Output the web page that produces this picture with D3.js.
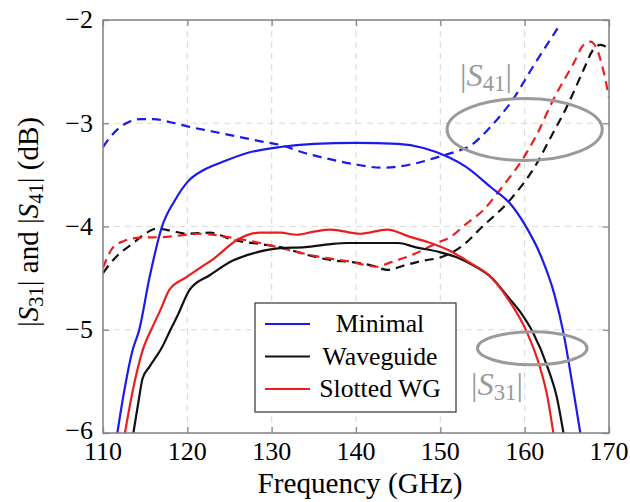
<!DOCTYPE html>
<html>
<head>
<meta charset="utf-8">
<script src="https://cdn.jsdelivr.net/npm/d3@7"></script>
<style>
  html, body { margin: 0; padding: 0; background: #fff; }
  svg { display: block; }
</style>
</head>
<body>
<svg id="chart" width="630" height="502"></svg>
<script>
// ---------- data ----------
const xTicks = [110, 120, 130, 140, 150, 160, 170];
const yTicks = [-6, -5, -4, -3, -2];
const seriesNames = ["Minimal", "Waveguide", "Slotted WG"];

// |S31| (solid)
const minimalS31 = [[111.7,-6],[112.5,-5.6],[113.5,-5.2],[114.3,-5.0],[115.5,-4.5],[117,-4.0],[118.5,-3.75],[120,-3.57],[122,-3.45],[124,-3.38],[127,-3.29],[131,-3.23],[135,-3.2],[140,-3.19],[145,-3.2],[148,-3.24],[151,-3.33],[153,-3.42],[156,-3.62],[158.3,-3.78],[160,-3.98],[162,-4.3],[163.5,-4.65],[164.6,-5.03],[165.6,-5.5],[166.6,-6]];
const waveguideS31 = [[113.6,-6],[114.2,-5.7],[114.7,-5.47],[115.5,-5.36],[117,-5.17],[118,-5.0],[118.8,-4.87],[120.3,-4.61],[122.7,-4.47],[125.4,-4.33],[127.8,-4.26],[131,-4.21],[134,-4.2],[137,-4.17],[139,-4.16],[142,-4.16],[145,-4.16],[147,-4.2],[150,-4.25],[152,-4.3],[154,-4.38],[156,-4.49],[158,-4.68],[159.5,-4.83],[161,-5.03],[162.7,-5.36],[163.8,-5.65],[164.6,-6]];
const slottedS31 = [[112.6,-6],[113.5,-5.6],[114.7,-5.2],[116,-4.95],[116.8,-4.81],[117.9,-4.61],[119.9,-4.49],[121.5,-4.4],[123,-4.32],[125.9,-4.13],[128.6,-4.06],[131,-4.06],[133,-4.08],[135,-4.05],[137,-4.03],[140.5,-4.07],[143.7,-4.03],[146.4,-4.1],[148.5,-4.15],[151,-4.23],[153.5,-4.35],[156,-4.49],[158,-4.7],[160.3,-5.03],[161.8,-5.36],[162.7,-5.65],[163.4,-6]];

// |S41| (dashed)
const minimalS41 = [[110,-3.23],[111,-3.12],[112,-3.04],[113,-2.99],[114.5,-2.96],[116,-2.96],[118,-2.99],[120,-3.03],[123,-3.08],[126,-3.13],[129,-3.18],[131,-3.21],[134,-3.29],[137,-3.35],[140,-3.4],[143,-3.43],[145,-3.42],[147.5,-3.38],[150,-3.32],[152,-3.27],[153.5,-3.22],[156,-3.03],[158.6,-2.77],[161,-2.45],[164,-2.07]];
const waveguideS41 = [[110,-4.45],[111.6,-4.29],[113.6,-4.16],[115,-4.07],[116.4,-4.02],[118,-4.04],[120,-4.07],[122.7,-4.06],[125.4,-4.13],[128.6,-4.17],[131,-4.2],[134,-4.27],[136.6,-4.32],[140,-4.35],[142,-4.38],[143.7,-4.42],[145.6,-4.38],[148,-4.33],[150,-4.3],[152.4,-4.2],[155,-4.0],[158.3,-3.74],[161.5,-3.38],[163,-3.15],[165,-2.84],[167,-2.48],[168.1,-2.29],[169,-2.24],[170,-2.28]];
const slottedS41 = [[110,-4.4],[111.2,-4.2],[112.5,-4.14],[114,-4.11],[117.6,-4.1],[121.5,-4.07],[125.4,-4.11],[128.6,-4.16],[132.2,-4.23],[135.4,-4.29],[139.3,-4.34],[142.5,-4.39],[144,-4.35],[146.8,-4.27],[149.6,-4.16],[151.2,-4.1],[153,-3.98],[155.1,-3.84],[157.5,-3.6],[159.9,-3.33],[161.5,-3.1],[163.4,-2.77],[165.8,-2.42],[167,-2.24],[167.8,-2.21],[168.5,-2.27],[169.3,-2.48],[170,-2.75]];

// annotation ellipses in data units: [centerGHz, centerdB, radiusGHz, radiusdB]
const ellipseS41 = [160, -3.06, 9.2, 0.30];
const ellipseS31 = [160.9, -5.18, 6.5, 0.16];

// ---------- layout ----------
const FONT = '"Liberation Serif"';
const svg = d3.select("#chart");
const L = 103, R = 609, T = 20, B = 433;
const x = d3.scaleLinear().domain([110, 170]).range([L, R]);
const y = d3.scaleLinear().domain([-6, -2]).range([B, T]);

const colors = { "Minimal": "#1a1aee", "Waveguide": "#111", "Slotted WG": "#ee1c1c" };

function txt(parent) {
  return parent.append("text").style("font-family", FONT).style("fill", "#000");
}
// scale a text's font-size so its rendered width matches a target width
function fitWidth(sel, target) {
  const w = sel.node().getComputedTextLength();
  const fs = parseFloat(sel.attr("font-size"));
  const nf = fs * target / w;
  sel.attr("font-size", nf);
  return nf;
}

svg.append("defs").append("clipPath").attr("id", "clip")
  .append("rect").attr("x", L).attr("y", T).attr("width", R - L).attr("height", B - T);

// grid
const grid = svg.append("g");
grid.selectAll(".gx").data(xTicks.slice(1, -1)).enter().append("line")
  .attr("x1", d => x(d)).attr("x2", d => x(d)).attr("y1", T).attr("y2", B)
  .attr("stroke", "#dcdcdc").attr("stroke-width", 1.2).attr("stroke-dasharray", "6,5");
grid.selectAll(".gy").data(yTicks.slice(1, -1)).enter().append("line")
  .attr("y1", d => y(d)).attr("y2", d => y(d)).attr("x1", L).attr("x2", R)
  .attr("stroke", "#dcdcdc").attr("stroke-width", 1.2).attr("stroke-dasharray", "6,5");

// axes (ticks inward, on all sides)
const tickLen = 6;
const axB = svg.append("g").attr("transform", `translate(0,${B})`)
  .call(d3.axisBottom(x).tickValues(xTicks).tickSize(-tickLen).tickFormat(""));
const axT = svg.append("g").attr("transform", `translate(0,${T})`)
  .call(d3.axisTop(x).tickValues(xTicks).tickSize(-tickLen).tickFormat(""));
const axL = svg.append("g").attr("transform", `translate(${L},0)`)
  .call(d3.axisLeft(y).tickValues(yTicks).tickSize(-tickLen).tickFormat(""));
const axR = svg.append("g").attr("transform", `translate(${R},0)`)
  .call(d3.axisRight(y).tickValues(yTicks).tickSize(-tickLen).tickFormat(""));
[axB, axT, axL, axR].forEach(a => {
  a.select(".domain").remove();
  a.selectAll("text").remove();
  a.selectAll("line").attr("stroke", "#8a8a8a").attr("stroke-width", 1.3);
});

// tick labels
const fmt = d => (d < 0 ? "\u2212" + Math.abs(d) : String(d));
const probe = txt(svg).attr("font-size", 24).text("130");
const tickFs = fitWidth(probe, 39);
probe.remove();
const xtl = svg.append("g");
xTicks.forEach(d => {
  txt(xtl).attr("x", x(d)).attr("y", 460).attr("text-anchor", "middle")
    .attr("font-size", tickFs).text(fmt(d));
});
const ytl = svg.append("g");
yTicks.forEach(d => {
  txt(ytl).attr("x", 93).attr("y", y(d) + tickFs * 0.32 - (d === -6 ? 2 : 0)).attr("text-anchor", "end")
    .attr("font-size", tickFs).text(fmt(d));
});

// series
const line = d3.line().x(d => x(d[0])).y(d => y(d[1])).curve(d3.curveMonotoneX);
const plot = svg.append("g").attr("clip-path", "url(#clip)");
const series = [
  { name: "Minimal", d: minimalS41, dash: true },
  { name: "Waveguide", d: waveguideS41, dash: true },
  { name: "Slotted WG", d: slottedS41, dash: true },
  { name: "Minimal", d: minimalS31, dash: false },
  { name: "Waveguide", d: waveguideS31, dash: false },
  { name: "Slotted WG", d: slottedS31, dash: false }
];
series.forEach(s => {
  plot.append("path").datum(s.d).attr("d", line)
    .attr("fill", "none").attr("stroke", colors[s.name])
    .attr("stroke-width", 2.2)
    .attr("stroke-dasharray", s.dash ? "9,6" : null);
});

// frame
svg.append("rect").attr("x", L).attr("y", T).attr("width", R - L).attr("height", B - T)
  .attr("fill", "none").attr("stroke", "#808080").attr("stroke-width", 1.5);

// annotation ellipses
[ellipseS41, ellipseS31].forEach(e => {
  svg.append("ellipse")
    .attr("cx", x(e[0])).attr("cy", y(e[1]))
    .attr("rx", x(e[0] + e[2]) - x(e[0])).attr("ry", y(e[1] - e[3]) - y(e[1]))
    .attr("fill", "none").attr("stroke", "#9a9a9a").attr("stroke-width", 3);
});

function sLabel(cx, by, sub, size, width) {
  const t = txt(svg).attr("x", cx).attr("y", by).attr("text-anchor", "middle")
    .attr("font-size", size).style("fill", "#999");
  t.append("tspan").text("|");
  t.append("tspan").style("font-style", "italic").text("S");
  t.append("tspan").attr("font-size", "70%").attr("dy", size * 0.2).text(sub);
  t.append("tspan").attr("dy", -size * 0.2).text("|");
  fitWidth(t, width);
}
sLabel(486, 86, "41", 26, 52);
sLabel(497, 395, "31", 26, 52);

// legend
const lg = svg.append("g");
lg.append("rect").attr("x", 255).attr("y", 303).attr("width", 201).attr("height", 109)
  .attr("fill", "#fff").attr("stroke", "#333").attr("stroke-width", 1.2);
const lp = txt(lg).attr("font-size", 24).text("Waveguide");
const legFs = fitWidth(lp, 115);
lp.remove();
seriesNames.forEach((n, i) => {
  const yy = 324 + i * 32.5;
  lg.append("line").attr("x1", 265).attr("x2", 310).attr("y1", yy).attr("y2", yy)
    .attr("stroke", colors[n]).attr("stroke-width", 2.2);
  txt(lg).attr("x", 380).attr("y", yy + legFs * 0.32).attr("text-anchor", "middle")
    .attr("font-size", legFs).text(n);
});

// axis titles
const xl = txt(svg).attr("x", 360).attr("y", 493).attr("text-anchor", "middle")
  .attr("font-size", 26).text("Frequency (GHz)");
fitWidth(xl, 205);

const yl = txt(svg).attr("transform", "translate(38,222) rotate(-90)")
  .attr("text-anchor", "middle").attr("font-size", 26);
yl.append("tspan").text("|");
yl.append("tspan").style("font-style", "italic").text("S");
yl.append("tspan").attr("font-size", "70%").attr("dy", 5).text("31");
yl.append("tspan").attr("dy", -5).text("| and |");
yl.append("tspan").style("font-style", "italic").text("S");
yl.append("tspan").attr("font-size", "70%").attr("dy", 5).text("41");
yl.append("tspan").attr("dy", -5).text("| (dB)");
fitWidth(yl, 210);
</script>
</body>
</html>
